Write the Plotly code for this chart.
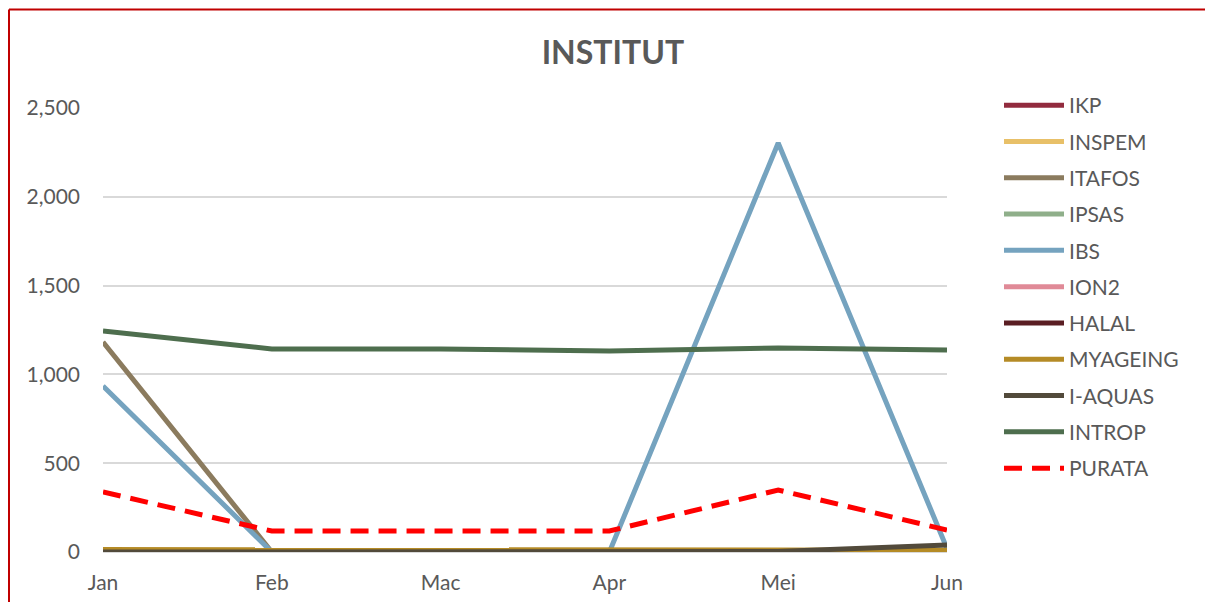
import plotly.graph_objects as go

months = ["Jan", "Feb", "Mac", "Apr", "Mei", "Jun"]
series_names = ["IKP", "INSPEM", "ITAFOS", "IPSAS", "IBS", "ION2", "HALAL",
                "MYAGEING", "I-AQUAS", "INTROP", "PURATA"]
ikp = [0, 0, 0, 0, 0, 2]
inspem = [0, 0, 0, 0, 0, 0]
itafos = [1182, 0, 0, 0, 0, 0]
ipsas = [0, 0, 0, 0, 0, 0]
ibs = [935, 0, 0, 0, 2303, 20]
ion2 = [0, 0, 0, 0, 0, 0]
halal = [0, 0, 0, 0, 0, 0]
myageing = [14, 14, 14, 14, 14, 10]
iaquas = [0, 0, 0, 0, 3, 40]
introp = [1244, 1143, 1143, 1132, 1149, 1137]
purata = [338, 118, 118, 118, 349, 124]
y_ticks = [0, 500, 1000, 1500, 2000, 2500]

values = [ikp, inspem, itafos, ipsas, ibs, ion2, halal, myageing, iaquas, introp, purata]
colors = ["#922B3E", "#E8C068", "#8B7B5E", "#8FAF8A", "#75A3BF", "#E08A97",
          "#5A1E23", "#B58B26", "#524A3B", "#4E6E4E", "#FF0000"]

FONT = "Lato"
W, H = 1205, 594
L, R, T, B = 95, 266, 100, 50
PW, PH = W - L - R, H - T - B

fig = go.Figure()
for name, vals, col in zip(series_names, values, colors):
    dash = "18px,10px" if name == "PURATA" else "solid"
    fig.add_trace(go.Scatter(
        x=months, y=vals, name=name, mode="lines",
        line=dict(color=col, width=5, dash=dash),
        legendgroup=name,
    ))

border = dict(color="#C00000", width=2)
fig.update_layout(
    width=W, height=H,
    margin=dict(l=L, r=R, t=T, b=B, autoexpand=False),
    paper_bgcolor="white", plot_bgcolor="white",
    title=dict(text="<b>INSTITUT</b>", x=0.502, xref="container", xanchor="center",
               y=1 - 45 / H, yref="container", yanchor="middle",
               font=dict(family=FONT, size=32, color="#595959")),
    font=dict(family=FONT, size=21, color="#595959"),
    xaxis=dict(showgrid=False, showline=False, zeroline=False, ticks="",
               range=[0, 5], tickfont=dict(size=21, color="#595959"),
               ticklabelstandoff=16, automargin=False),
    yaxis=dict(range=[0, 2500], tickvals=y_ticks, tickformat=",",
               showgrid=True, gridcolor="#D9D9D9", gridwidth=1.5,
               zeroline=True, zerolinecolor="#D9D9D9", zerolinewidth=1.5,
               showline=False, ticks="", tickfont=dict(size=21, color="#595959"),
               ticklabelstandoff=22, automargin=False),
    legend=dict(x=(991 - L) / PW, xanchor="left", y=1 + (T - 77) / PH, yanchor="top",
                font=dict(family=FONT, size=21, color="#595959"),
                tracegroupgap=6, itemwidth=60, bgcolor="rgba(0,0,0,0)",
                maxheight=560),
    showlegend=True,
    shapes=[
        dict(type="line", xref="paper", yref="paper",
             x0=(1 - L) / PW, x1=(1 - L) / PW,
             y0=-(B + 30) / PH, y1=1 + (T - 1.5) / PH, line=border, layer="below"),
        dict(type="line", xref="paper", yref="paper",
             x0=(1 - L) / PW, x1=(W + 20 - L) / PW,
             y0=1 + (T - 1.5) / PH, y1=1 + (T - 1.5) / PH, line=border, layer="below"),
    ],
)

fig.write_html("out.html")
